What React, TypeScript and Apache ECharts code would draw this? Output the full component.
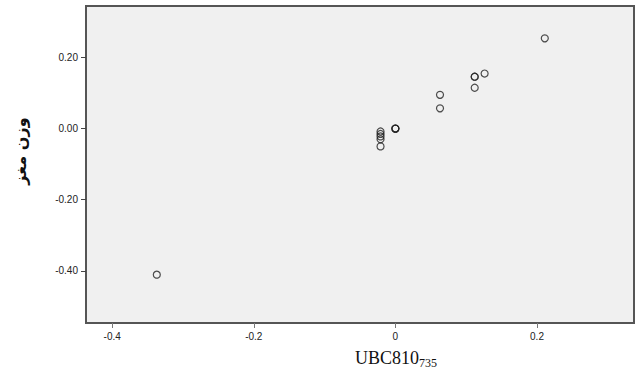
import React, { useEffect, useRef } from "react";
import * as echarts from "echarts";

const xValues = [0.211, 0.126, 0.112, 0.112, 0.112, 0.063, 0.063, 0.0, 0.0, 0.0, -0.021, -0.021, -0.021, -0.021, -0.021, -0.337];
const yValues = [0.254, 0.155, 0.146, 0.146, 0.115, 0.095, 0.057, 0.0, 0.0, 0.0, -0.008, -0.015, -0.022, -0.030, -0.050, -0.411];
const xTicks = [-0.4, -0.2, 0, 0.2];
const yTicks = [0.2, 0.0, -0.2, -0.4];
const xTickLabels = ["-0.4", "-0.2", "0", "0.2"];
const yTickLabels = ["0.20", "0.00", "-0.20", "-0.40"];
const xTitle = "UBC810";
const xTitleSub = "735";
const yTitle = "وزن مغز";

export default function App() {
  const ref = useRef<HTMLDivElement>(null);
  useEffect(() => {
    if (!ref.current) return;
    const chart = echarts.init(ref.current, null, { renderer: "svg" });
    const data = xValues.map((x, i) => [x, yValues[i]]);
    chart.setOption({
      animation: false,
      backgroundColor: "#ffffff",
      grid: {
        left: 86,
        top: 6,
        right: 4,
        bottom: 55,
        show: true,
        backgroundColor: "#f0f0f0",
        borderColor: "#555555",
        borderWidth: 2,
      },
      xAxis: {
        type: "value",
        min: -0.437,
        max: 0.337,
        axisLine: { show: false, onZero: false },
        splitLine: { show: false },
        axisTick: { show: true, customValues: xTicks, length: 5, lineStyle: { color: "#777" } },
        axisLabel: {
          customValues: xTicks,
          formatter: (v: number) => xTickLabels[xTicks.findIndex((t) => Math.abs(t - v) < 1e-6)] ?? "",
          color: "#222",
          fontSize: 10,
          fontFamily: "Liberation Sans, Arial, sans-serif",
          margin: 8,
        },
      },
      yAxis: {
        type: "value",
        min: -0.547,
        max: 0.345,
        axisLine: { show: false, onZero: false },
        splitLine: { show: false },
        axisTick: { show: true, customValues: yTicks, length: 5, lineStyle: { color: "#444" } },
        axisLabel: {
          customValues: yTicks,
          formatter: (v: number) => yTickLabels[yTicks.findIndex((t) => Math.abs(t - v) < 1e-6)] ?? "",
          color: "#222",
          fontSize: 10,
          fontFamily: "Liberation Sans, Arial, sans-serif",
          margin: 8,
        },
      },
      graphic: [
        {
          type: "text",
          x: 20,
          y: 151,
          rotation: Math.PI / 2,
          style: {
            text: yTitle,
            align: "center",
            verticalAlign: "middle",
            fontSize: 16,
            fontWeight: "bold",
            fontFamily: "DejaVu Sans, Noto Sans, sans-serif",
            fill: "#111",
          },
        },
        {
          type: "text",
          x: 396,
          y: 358,
          style: {
            text: `{a|${xTitle}}{b|${xTitleSub}}`,
            align: "center",
            verticalAlign: "middle",
            rich: {
              a: { fontSize: 18, fontFamily: "Liberation Serif, Times New Roman, serif", fill: "#111" },
              b: { fontSize: 12, fontFamily: "Liberation Serif, Times New Roman, serif", fill: "#111", padding: [10, 0, 0, 0] },
            },
          },
        },
      ],
      series: [
        {
          type: "scatter",
          data,
          symbol: "circle",
          symbolSize: 7,
          itemStyle: { color: "rgba(0,0,0,0)", borderColor: "#222", borderWidth: 1.2 },
        },
      ],
    });
    return () => chart.dispose();
  }, []);
  return <div ref={ref} style={{ position: "fixed", left: 0, top: 0, width: 638, height: 378 }} />;
}
